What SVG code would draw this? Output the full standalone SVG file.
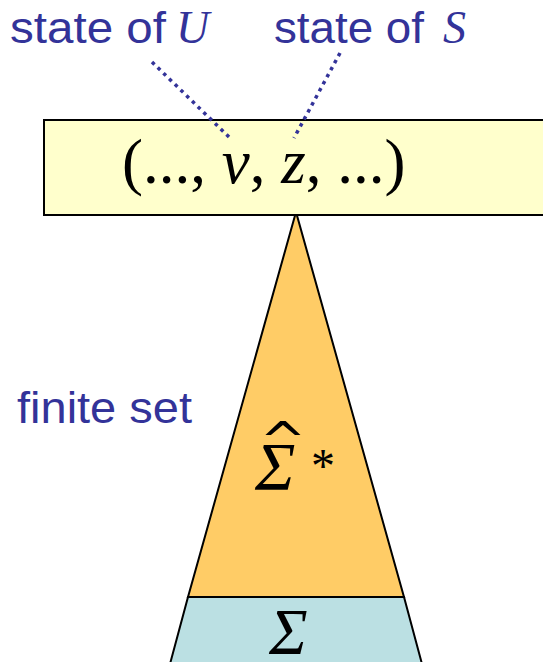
<svg xmlns="http://www.w3.org/2000/svg" width="543" height="662" viewBox="0 0 543 662">
<style>
.sans{font-family:"Liberation Sans",Arial,sans-serif;fill:#333399;font-size:45px}
.serif{font-family:"Liberation Serif","Times New Roman",serif;fill:#000}
.blue{fill:#333399}
.ital{font-style:italic}
.shape{stroke:#000;stroke-width:2}
.dots{stroke:#333399;stroke-width:3.5;stroke-dasharray:3.5 4.5;fill:none}
</style>
<rect width="543" height="662" fill="#fff"/>
<g id="sigma-hat-star">
<polygon class="shape" points="296,212 188,597 404,597" fill="#FFCC66"/>
<text font-family="'DejaVu Sans',sans-serif" font-size="40" text-anchor="middle" transform="translate(283,459) scale(1.4,1.3)" fill="#000">^</text>
<text class="serif ital" x="255" y="489" font-size="68">Σ</text>
<text class="serif" x="311" y="482" font-size="48">*</text>
</g>
<g id="sigma">
<polygon class="shape" points="188,597 404,597 422,664 170,664" fill="#BBE0E3"/>
<text class="serif ital" x="269" y="654" font-size="65">Σ</text>
</g>
<g id="tuple">
<rect class="shape" x="44" y="120" width="510" height="95" fill="#FFFFCC"/>
<text class="serif" x="122" y="183" font-size="63">(..., <tspan class="ital">v</tspan>, <tspan class="ital">z</tspan>, ...)</text>
</g>
<g id="label-U">
<text class="sans" x="10" y="43" textLength="156" lengthAdjust="spacingAndGlyphs">state of</text>
<text class="serif ital blue" x="176" y="43" font-size="46">U</text>
</g>
<g id="label-S">
<text class="sans" x="274" y="43" textLength="150" lengthAdjust="spacingAndGlyphs">state of</text>
<text class="serif ital blue" x="443" y="43" font-size="46">S</text>
</g>
<g id="label-finite">
<text class="sans" x="17" y="423" textLength="175" lengthAdjust="spacingAndGlyphs">finite set</text>
</g>
<g id="connectors">
<line class="dots" x1="152" y1="62" x2="231" y2="139"/>
<line class="dots" x1="340" y1="53" x2="294" y2="138"/>
</g>
</svg>
